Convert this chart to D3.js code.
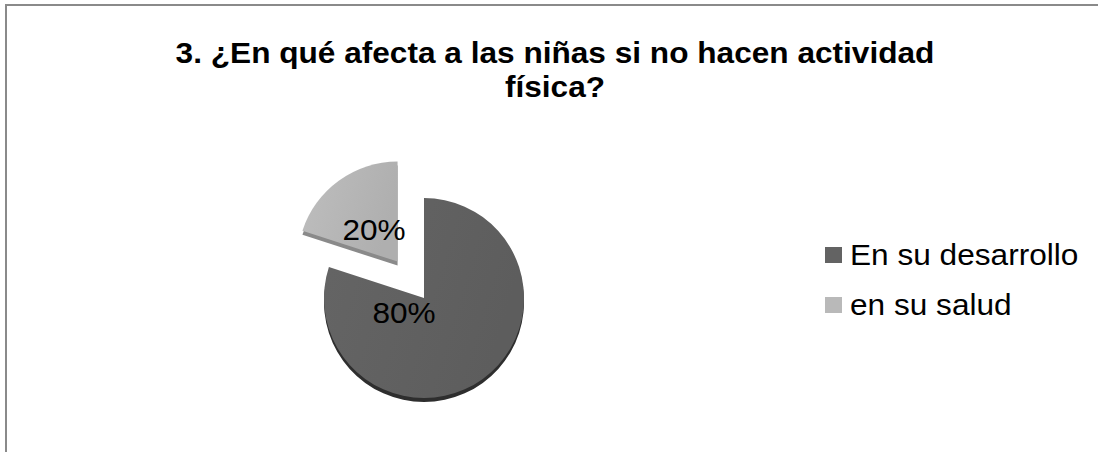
<!DOCTYPE html>
<html>
<head>
<meta charset="utf-8">
<script src="https://cdn.jsdelivr.net/npm/d3@7"></script>
<style>
  html, body { margin: 0; padding: 0; background: #fff; overflow: hidden; }
  svg { display: block; }
  text { font-family: "Liberation Sans", Arial, sans-serif; fill: #000; }
</style>
</head>
<body>
<svg width="1098" height="452"></svg>
<script>
const categories = ["En su desarrollo", "en su salud"];
const values = [80, 20];
const pctLabels = ["80%", "20%"];
const titleLines = ["3. ¿En qué afecta a las niñas si no hacen actividad", "física?"];

const svg = d3.select("svg");
const W = 1098, H = 452;
const stretch = 1.09; // text in the picture is a bit wider than plain Arial

// frame (only top and left edges show)
svg.append("path")
  .attr("d", `M6,${H}V5H${W}`)
  .attr("fill", "none")
  .attr("stroke", "#8a8a8a")
  .attr("stroke-width", 2);

// title
const title = svg.append("g").attr("transform", `translate(555,0) scale(${stretch},1)`);
title.selectAll("text")
  .data(titleLines)
  .join("text")
  .attr("x", 0)
  .attr("y", (d, i) => 63 + i * 34)
  .attr("text-anchor", "middle")
  .style("font-size", "29px")
  .style("font-weight", "bold")
  .text(d => d);

// pie
const color = d3.scaleOrdinal().domain(categories).range(["#606060", "#b4b4b4"]);
const sideColor = d3.scaleOrdinal().domain(categories).range(["#2e2e2e", "#8a8a8a"]);
const explode = d3.scaleOrdinal().domain(categories).range([0, 45]);

const cx = 424, cy = 298, R = 100, depth = 4;
const pie = d3.pie().sort(null).value(d => d.v);
const arcs = pie(categories.map((c, i) => ({ c, v: values[i], label: pctLabels[i] })));
const arc = d3.arc().innerRadius(0).outerRadius(R);
const labelArc = d3.arc().innerRadius(0).outerRadius(80);

const defs = svg.append("defs");
categories.forEach((c, i) => {
  const g = defs.append("linearGradient").attr("id", "g" + i)
    .attr("x1", "0").attr("y1", "0").attr("x2", "1").attr("y2", "0.3");
  const base = d3.color(color(c));
  g.append("stop").attr("offset", "0%").attr("stop-color", base.brighter(0.15));
  g.append("stop").attr("offset", "100%").attr("stop-color", base.darker(0.08));
});

function offset(d) {
  const a = (d.startAngle + d.endAngle) / 2;
  const e = explode(d.data.c);
  return [cx + Math.sin(a) * e, cy - Math.cos(a) * e];
}

const slices = svg.append("g")
  .selectAll("g")
  .data(arcs)
  .join("g")
  .attr("transform", d => { const p = offset(d); return `translate(${p[0]},${p[1]})`; });

// thickness
slices.append("path")
  .attr("d", arc)
  .attr("transform", `translate(0,${depth})`)
  .attr("fill", d => sideColor(d.data.c));

// top face
slices.append("path")
  .attr("d", arc)
  .attr("fill", (d, i) => `url(#g${i})`);

// labels
slices.append("text")
  .attr("transform", (d, i) => {
    let p = labelArc.centroid(d);
    if (i === 0) p = [-20, 15]; // pushed in by the exploded slice
    return `translate(${p[0]},${p[1]}) scale(${stretch},1)`;
  })
  .attr("text-anchor", "middle")
  .attr("dy", "0.36em")
  .style("font-size", "29px")
  .text(d => d.data.label);

// legend
const legend = svg.append("g").attr("transform", "translate(825,247)")
  .selectAll("g")
  .data(categories)
  .join("g")
  .attr("transform", (d, i) => `translate(0,${i * 50})`);

legend.append("rect")
  .attr("width", 17).attr("height", 16)
  .attr("fill", d => d3.color(color(d)).brighter(0.08));

legend.append("text")
  .attr("transform", `translate(25,18) scale(${stretch},1)`)
  .style("font-size", "29px")
  .text(d => d);
</script>
</body>
</html>
